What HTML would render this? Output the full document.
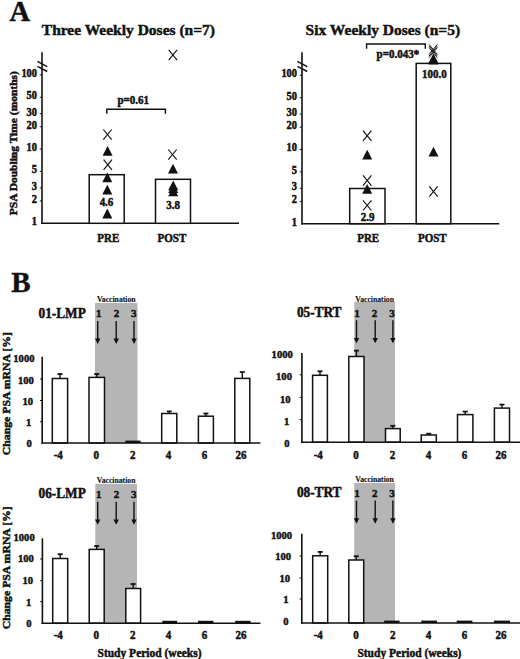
<!DOCTYPE html>
<html><head><meta charset="utf-8"><style>
html,body{margin:0;padding:0;background:#fff;}
svg{display:block;}
text{font-family:"Liberation Serif",serif;font-weight:bold;fill:#111;stroke:#111;stroke-width:0.45px;}
</style></head><body>
<svg width="520" height="659" viewBox="0 0 520 659">
<rect x="0" y="0" width="520" height="659" fill="#fff"/>
<text transform="translate(9.60,20.60) scale(1.0,1.04)" font-size="28.5" text-anchor="start">A</text>
<line x1="42.00" y1="52.30" x2="42.00" y2="224.10" stroke="#111" stroke-width="1.6"/>
<line x1="41.20" y1="223.30" x2="239.00" y2="223.30" stroke="#111" stroke-width="1.6"/>
<line x1="37.40" y1="61.40" x2="47.20" y2="66.70" stroke="#111" stroke-width="1.5"/>
<line x1="37.40" y1="66.30" x2="47.20" y2="71.50" stroke="#111" stroke-width="1.5"/>
<text transform="translate(37.00,225.20) scale(1.0,1.13)" font-size="10.4" text-anchor="end">1</text>
<line x1="39.80" y1="200.96" x2="42.00" y2="200.96" stroke="#111" stroke-width="1"/>
<text transform="translate(37.00,202.86) scale(1.0,1.13)" font-size="10.4" text-anchor="end">2</text>
<line x1="39.80" y1="187.90" x2="42.00" y2="187.90" stroke="#111" stroke-width="1"/>
<text transform="translate(37.00,189.80) scale(1.0,1.13)" font-size="10.4" text-anchor="end">3</text>
<line x1="39.80" y1="171.44" x2="42.00" y2="171.44" stroke="#111" stroke-width="1"/>
<text transform="translate(37.00,173.34) scale(1.0,1.13)" font-size="10.4" text-anchor="end">5</text>
<line x1="39.80" y1="149.10" x2="42.00" y2="149.10" stroke="#111" stroke-width="1"/>
<text transform="translate(37.00,151.00) scale(1.0,1.13)" font-size="10.4" text-anchor="end">10</text>
<line x1="39.80" y1="126.76" x2="42.00" y2="126.76" stroke="#111" stroke-width="1"/>
<text transform="translate(37.00,128.66) scale(1.0,1.13)" font-size="10.4" text-anchor="end">20</text>
<line x1="39.80" y1="113.70" x2="42.00" y2="113.70" stroke="#111" stroke-width="1"/>
<text transform="translate(37.00,115.60) scale(1.0,1.13)" font-size="10.4" text-anchor="end">30</text>
<line x1="39.80" y1="97.24" x2="42.00" y2="97.24" stroke="#111" stroke-width="1"/>
<text transform="translate(37.00,99.14) scale(1.0,1.13)" font-size="10.4" text-anchor="end">50</text>
<line x1="39.80" y1="74.90" x2="42.00" y2="74.90" stroke="#111" stroke-width="1"/>
<text transform="translate(37.00,76.80) scale(1.0,1.13)" font-size="10.4" text-anchor="end">100</text>
<text transform="translate(41.80,34.90)" font-size="15.5" text-anchor="start">Three Weekly Doses (n=7)</text>
<rect x="89.20" y="174.70" width="35.00" height="48.60" fill="#fff" stroke="#111" stroke-width="1.5"/>
<rect x="155.50" y="179.30" width="35.00" height="44.00" fill="#fff" stroke="#111" stroke-width="1.5"/>
<line x1="103.30" y1="129.50" x2="111.70" y2="139.70" stroke="#111" stroke-width="1.15"/>
<line x1="103.30" y1="139.70" x2="111.70" y2="129.50" stroke="#111" stroke-width="1.15"/>
<polygon points="107.60,146.00 102.60,155.80 112.60,155.80" fill="#111"/>
<line x1="103.60" y1="159.70" x2="112.00" y2="169.90" stroke="#111" stroke-width="1.15"/>
<line x1="103.60" y1="169.90" x2="112.00" y2="159.70" stroke="#111" stroke-width="1.15"/>
<polygon points="107.30,172.50 102.30,182.30 112.30,182.30" fill="#111"/>
<polygon points="107.30,184.70 102.30,194.50 112.30,194.50" fill="#111"/>
<polygon points="107.30,208.60 102.30,218.40 112.30,218.40" fill="#111"/>
<line x1="168.70" y1="49.90" x2="177.10" y2="60.10" stroke="#111" stroke-width="1.15"/>
<line x1="168.70" y1="60.10" x2="177.10" y2="49.90" stroke="#111" stroke-width="1.15"/>
<line x1="168.30" y1="149.50" x2="176.70" y2="159.70" stroke="#111" stroke-width="1.15"/>
<line x1="168.30" y1="159.70" x2="176.70" y2="149.50" stroke="#111" stroke-width="1.15"/>
<polygon points="173.00,163.80 168.00,173.60 178.00,173.60" fill="#111"/>
<polygon points="173.20,186.40 168.20,196.20 178.20,196.20" fill="#111"/>
<polygon points="173.20,183.20 168.20,193.00 178.20,193.00" fill="#111"/>
<polygon points="173.20,180.40 168.20,190.20 178.20,190.20" fill="#111"/>
<text transform="translate(106.50,205.70) scale(1.0,1.05)" font-size="11" text-anchor="middle">4.6</text>
<text transform="translate(173.20,209.40) scale(1.0,1.05)" font-size="11" text-anchor="middle">3.8</text>
<text transform="translate(108.25,241.90) scale(1.0,1.05)" font-size="11" text-anchor="middle">PRE</text>
<text transform="translate(171.90,241.90) scale(1.0,1.05)" font-size="11" text-anchor="middle">POST</text>
<path d="M106.8,113.7 V109.2 H165.4 V113.7" fill="none" stroke="#111" stroke-width="1.4"/>
<text transform="translate(133.20,104.00) scale(1.0,1.05)" font-size="11" text-anchor="middle">p=0.61</text>
<text transform="translate(16.90,143.20) rotate(-90) scale(1.064,1.0)" font-size="10.8" text-anchor="middle">PSA Doubling Time (months)</text>
<line x1="302.00" y1="52.30" x2="302.00" y2="224.50" stroke="#111" stroke-width="1.6"/>
<line x1="301.20" y1="223.70" x2="499.30" y2="223.70" stroke="#111" stroke-width="1.6"/>
<line x1="297.40" y1="61.40" x2="307.20" y2="66.70" stroke="#111" stroke-width="1.5"/>
<line x1="297.40" y1="66.30" x2="307.20" y2="71.50" stroke="#111" stroke-width="1.5"/>
<text transform="translate(297.00,225.60) scale(1.0,1.13)" font-size="10.4" text-anchor="end">1</text>
<line x1="299.80" y1="201.36" x2="302.00" y2="201.36" stroke="#111" stroke-width="1"/>
<text transform="translate(297.00,203.26) scale(1.0,1.13)" font-size="10.4" text-anchor="end">2</text>
<line x1="299.80" y1="188.30" x2="302.00" y2="188.30" stroke="#111" stroke-width="1"/>
<text transform="translate(297.00,190.20) scale(1.0,1.13)" font-size="10.4" text-anchor="end">3</text>
<line x1="299.80" y1="171.84" x2="302.00" y2="171.84" stroke="#111" stroke-width="1"/>
<text transform="translate(297.00,173.74) scale(1.0,1.13)" font-size="10.4" text-anchor="end">5</text>
<line x1="299.80" y1="149.50" x2="302.00" y2="149.50" stroke="#111" stroke-width="1"/>
<text transform="translate(297.00,151.40) scale(1.0,1.13)" font-size="10.4" text-anchor="end">10</text>
<line x1="299.80" y1="127.16" x2="302.00" y2="127.16" stroke="#111" stroke-width="1"/>
<text transform="translate(297.00,129.06) scale(1.0,1.13)" font-size="10.4" text-anchor="end">20</text>
<line x1="299.80" y1="114.10" x2="302.00" y2="114.10" stroke="#111" stroke-width="1"/>
<text transform="translate(297.00,116.00) scale(1.0,1.13)" font-size="10.4" text-anchor="end">30</text>
<line x1="299.80" y1="97.64" x2="302.00" y2="97.64" stroke="#111" stroke-width="1"/>
<text transform="translate(297.00,99.54) scale(1.0,1.13)" font-size="10.4" text-anchor="end">50</text>
<line x1="299.80" y1="75.30" x2="302.00" y2="75.30" stroke="#111" stroke-width="1"/>
<text transform="translate(297.00,77.20) scale(1.0,1.13)" font-size="10.4" text-anchor="end">100</text>
<text transform="translate(305.60,34.90)" font-size="15.5" text-anchor="start">Six Weekly Doses (n=5)</text>
<rect x="349.70" y="188.50" width="35.30" height="35.20" fill="#fff" stroke="#111" stroke-width="1.5"/>
<rect x="416.20" y="63.40" width="34.60" height="160.30" fill="#fff" stroke="#111" stroke-width="1.5"/>
<line x1="363.00" y1="130.60" x2="371.40" y2="140.80" stroke="#111" stroke-width="1.15"/>
<line x1="363.00" y1="140.80" x2="371.40" y2="130.60" stroke="#111" stroke-width="1.15"/>
<polygon points="367.20,149.80 362.20,159.60 372.20,159.60" fill="#111"/>
<line x1="363.00" y1="175.40" x2="371.40" y2="185.60" stroke="#111" stroke-width="1.15"/>
<line x1="363.00" y1="185.60" x2="371.40" y2="175.40" stroke="#111" stroke-width="1.15"/>
<polygon points="367.20,184.00 362.20,193.80 372.20,193.80" fill="#111"/>
<line x1="363.00" y1="200.30" x2="371.40" y2="210.50" stroke="#111" stroke-width="1.15"/>
<line x1="363.00" y1="210.50" x2="371.40" y2="200.30" stroke="#111" stroke-width="1.15"/>
<polygon points="433.50,146.80 428.50,156.60 438.50,156.60" fill="#111"/>
<line x1="429.30" y1="186.40" x2="437.70" y2="196.60" stroke="#111" stroke-width="1.15"/>
<line x1="429.30" y1="196.60" x2="437.70" y2="186.40" stroke="#111" stroke-width="1.15"/>
<line x1="429.00" y1="44.30" x2="437.40" y2="54.50" stroke="#111" stroke-width="0.95"/>
<line x1="429.00" y1="54.50" x2="437.40" y2="44.30" stroke="#111" stroke-width="0.95"/>
<line x1="429.00" y1="45.90" x2="437.40" y2="56.10" stroke="#111" stroke-width="0.95"/>
<line x1="429.00" y1="56.10" x2="437.40" y2="45.90" stroke="#111" stroke-width="0.95"/>
<line x1="429.00" y1="47.50" x2="437.40" y2="57.70" stroke="#111" stroke-width="0.95"/>
<line x1="429.00" y1="57.70" x2="437.40" y2="47.50" stroke="#111" stroke-width="0.95"/>
<polygon points="433.40,53.50 428.40,63.30 438.40,63.30" fill="#111"/>
<polygon points="433.40,54.60 428.40,64.40 438.40,64.40" fill="#111"/>
<text transform="translate(367.70,221.00) scale(1.0,1.05)" font-size="11" text-anchor="middle">2.9</text>
<text transform="translate(434.40,78.20) scale(1.0,1.05)" font-size="11" text-anchor="middle">100.0</text>
<text transform="translate(368.20,241.90) scale(1.0,1.05)" font-size="11" text-anchor="middle">PRE</text>
<text transform="translate(432.30,241.90) scale(1.0,1.05)" font-size="11" text-anchor="middle">POST</text>
<path d="M366.6,48.7 V44 H425.3 V48.7" fill="none" stroke="#111" stroke-width="1.4"/>
<text transform="translate(376.60,58.40) scale(1.0,1.05)" font-size="11" text-anchor="start">p=0.043*</text>
<text transform="translate(11.20,292.30)" font-size="29" text-anchor="start">B</text>
<rect x="95.00" y="303.00" width="42.50" height="140.00" fill="#b5b5b5"/>
<text transform="translate(38.50,317.90) scale(1.0,1.17)" font-size="13.3" text-anchor="start">01-LMP</text>
<text transform="translate(116.25,301.90)" font-size="7.7" text-anchor="middle" style="stroke-width:0.12px">Vaccination</text>
<text transform="translate(98.80,317.30) scale(1.0,1.03)" font-size="11" text-anchor="middle">1</text>
<line x1="97.70" y1="321.00" x2="97.70" y2="339.50" stroke="#111" stroke-width="1.4"/>
<polygon points="95.00,338.60 100.40,338.60 97.70,344.00" fill="#111"/>
<text transform="translate(116.40,317.30) scale(1.0,1.03)" font-size="11" text-anchor="middle">2</text>
<line x1="116.20" y1="321.00" x2="116.20" y2="339.50" stroke="#111" stroke-width="1.4"/>
<polygon points="113.50,338.60 118.90,338.60 116.20,344.00" fill="#111"/>
<text transform="translate(133.70,317.30) scale(1.0,1.03)" font-size="11" text-anchor="middle">3</text>
<line x1="134.00" y1="321.00" x2="134.00" y2="339.50" stroke="#111" stroke-width="1.4"/>
<polygon points="131.30,338.60 136.70,338.60 134.00,344.00" fill="#111"/>
<line x1="59.95" y1="374.00" x2="59.95" y2="378.50" stroke="#111" stroke-width="1.4"/>
<line x1="57.45" y1="374.00" x2="62.45" y2="374.00" stroke="#111" stroke-width="1.8"/>
<rect x="52.30" y="378.50" width="15.30" height="64.50" fill="#fff" stroke="#111" stroke-width="1.5"/>
<line x1="96.75" y1="374.00" x2="96.75" y2="377.40" stroke="#111" stroke-width="1.4"/>
<line x1="94.25" y1="374.00" x2="99.25" y2="374.00" stroke="#111" stroke-width="1.8"/>
<rect x="89.00" y="377.40" width="15.50" height="65.60" fill="#fff" stroke="#111" stroke-width="1.5"/>
<rect x="125.30" y="440.60" width="15.30" height="2.40" fill="#111"/>
<line x1="169.25" y1="411.40" x2="169.25" y2="413.50" stroke="#111" stroke-width="1.4"/>
<line x1="166.75" y1="411.40" x2="171.75" y2="411.40" stroke="#111" stroke-width="1.8"/>
<rect x="161.70" y="413.50" width="15.10" height="29.50" fill="#fff" stroke="#111" stroke-width="1.5"/>
<line x1="205.90" y1="413.50" x2="205.90" y2="416.20" stroke="#111" stroke-width="1.4"/>
<line x1="203.40" y1="413.50" x2="208.40" y2="413.50" stroke="#111" stroke-width="1.8"/>
<rect x="198.40" y="416.20" width="15.00" height="26.80" fill="#fff" stroke="#111" stroke-width="1.5"/>
<line x1="242.30" y1="372.00" x2="242.30" y2="378.40" stroke="#111" stroke-width="1.4"/>
<line x1="239.80" y1="372.00" x2="244.80" y2="372.00" stroke="#111" stroke-width="1.8"/>
<rect x="234.80" y="378.40" width="15.00" height="64.60" fill="#fff" stroke="#111" stroke-width="1.5"/>
<line x1="42.20" y1="356.80" x2="42.20" y2="443.80" stroke="#111" stroke-width="1.6"/>
<line x1="41.40" y1="443.00" x2="260.40" y2="443.00" stroke="#111" stroke-width="1.6"/>
<line x1="40.00" y1="379.00" x2="42.20" y2="379.00" stroke="#111" stroke-width="1"/>
<line x1="40.00" y1="400.50" x2="42.20" y2="400.50" stroke="#111" stroke-width="1"/>
<line x1="40.00" y1="421.80" x2="42.20" y2="421.80" stroke="#111" stroke-width="1"/>
<text transform="translate(23.90,361.80) scale(1.0,1.04)" font-size="10.6" text-anchor="middle">1000</text>
<text transform="translate(25.90,383.50) scale(1.0,1.04)" font-size="10.6" text-anchor="middle">100</text>
<text transform="translate(27.75,404.50) scale(1.0,1.04)" font-size="10.6" text-anchor="middle">10</text>
<text transform="translate(28.60,425.90) scale(1.0,1.04)" font-size="10.6" text-anchor="middle">1</text>
<text transform="translate(29.20,447.00) scale(1.0,1.04)" font-size="10.6" text-anchor="middle">0</text>
<text transform="translate(58.20,458.60) scale(1.0,1.05)" font-size="11" text-anchor="middle">-4</text>
<text transform="translate(96.30,458.60) scale(1.0,1.05)" font-size="11" text-anchor="middle">0</text>
<text transform="translate(132.80,458.60) scale(1.0,1.05)" font-size="11" text-anchor="middle">2</text>
<text transform="translate(168.50,458.60) scale(1.0,1.05)" font-size="11" text-anchor="middle">4</text>
<text transform="translate(204.50,458.60) scale(1.0,1.05)" font-size="11" text-anchor="middle">6</text>
<text transform="translate(240.90,458.60) scale(1.0,1.05)" font-size="11" text-anchor="middle">26</text>
<text transform="translate(9.90,393.70) rotate(-90) scale(1.078,1.0)" font-size="10.9" text-anchor="middle">Change PSA mRNA [%]</text>
<rect x="354.30" y="301.80" width="40.70" height="140.40" fill="#b5b5b5"/>
<text transform="translate(296.90,316.90) scale(1.0,1.17)" font-size="13.3" text-anchor="start">05-TRT</text>
<text transform="translate(374.65,301.50)" font-size="7.7" text-anchor="middle" style="stroke-width:0.12px">Vaccination</text>
<text transform="translate(356.90,316.90) scale(1.0,1.03)" font-size="11" text-anchor="middle">1</text>
<line x1="356.50" y1="320.20" x2="356.50" y2="338.80" stroke="#111" stroke-width="1.4"/>
<polygon points="353.80,337.90 359.20,337.90 356.50,343.30" fill="#111"/>
<text transform="translate(374.50,316.90) scale(1.0,1.03)" font-size="11" text-anchor="middle">2</text>
<line x1="375.20" y1="320.20" x2="375.20" y2="338.80" stroke="#111" stroke-width="1.4"/>
<polygon points="372.50,337.90 377.90,337.90 375.20,343.30" fill="#111"/>
<text transform="translate(391.90,316.90) scale(1.0,1.03)" font-size="11" text-anchor="middle">3</text>
<line x1="392.90" y1="320.20" x2="392.90" y2="338.80" stroke="#111" stroke-width="1.4"/>
<polygon points="390.20,337.90 395.60,337.90 392.90,343.30" fill="#111"/>
<line x1="320.00" y1="371.30" x2="320.00" y2="375.30" stroke="#111" stroke-width="1.4"/>
<line x1="317.50" y1="371.30" x2="322.50" y2="371.30" stroke="#111" stroke-width="1.8"/>
<rect x="312.60" y="375.30" width="14.80" height="66.90" fill="#fff" stroke="#111" stroke-width="1.5"/>
<line x1="356.40" y1="350.60" x2="356.40" y2="356.50" stroke="#111" stroke-width="1.4"/>
<line x1="353.90" y1="350.60" x2="358.90" y2="350.60" stroke="#111" stroke-width="1.8"/>
<rect x="348.80" y="356.50" width="15.20" height="85.70" fill="#fff" stroke="#111" stroke-width="1.5"/>
<line x1="392.85" y1="425.80" x2="392.85" y2="428.60" stroke="#111" stroke-width="1.4"/>
<line x1="390.35" y1="425.80" x2="395.35" y2="425.80" stroke="#111" stroke-width="1.8"/>
<rect x="385.50" y="428.60" width="14.70" height="13.60" fill="#fff" stroke="#111" stroke-width="1.5"/>
<line x1="428.75" y1="433.70" x2="428.75" y2="435.00" stroke="#111" stroke-width="1.4"/>
<line x1="426.25" y1="433.70" x2="431.25" y2="433.70" stroke="#111" stroke-width="1.8"/>
<rect x="421.20" y="435.00" width="15.10" height="7.20" fill="#fff" stroke="#111" stroke-width="1.5"/>
<line x1="465.20" y1="411.60" x2="465.20" y2="414.60" stroke="#111" stroke-width="1.4"/>
<line x1="462.70" y1="411.60" x2="467.70" y2="411.60" stroke="#111" stroke-width="1.8"/>
<rect x="457.50" y="414.60" width="15.40" height="27.60" fill="#fff" stroke="#111" stroke-width="1.5"/>
<line x1="501.95" y1="404.60" x2="501.95" y2="408.10" stroke="#111" stroke-width="1.4"/>
<line x1="499.45" y1="404.60" x2="504.45" y2="404.60" stroke="#111" stroke-width="1.8"/>
<rect x="494.40" y="408.10" width="15.10" height="34.10" fill="#fff" stroke="#111" stroke-width="1.5"/>
<line x1="301.90" y1="352.90" x2="301.90" y2="443.00" stroke="#111" stroke-width="1.6"/>
<line x1="301.10" y1="442.20" x2="520.00" y2="442.20" stroke="#111" stroke-width="1.6"/>
<line x1="299.70" y1="374.80" x2="301.90" y2="374.80" stroke="#111" stroke-width="1"/>
<line x1="299.70" y1="397.40" x2="301.90" y2="397.40" stroke="#111" stroke-width="1"/>
<line x1="299.70" y1="419.60" x2="301.90" y2="419.60" stroke="#111" stroke-width="1"/>
<text transform="translate(282.20,357.70) scale(1.0,1.04)" font-size="10.6" text-anchor="middle">1000</text>
<text transform="translate(284.00,380.10) scale(1.0,1.04)" font-size="10.6" text-anchor="middle">100</text>
<text transform="translate(285.20,402.50) scale(1.0,1.04)" font-size="10.6" text-anchor="middle">10</text>
<text transform="translate(286.70,424.50) scale(1.0,1.04)" font-size="10.6" text-anchor="middle">1</text>
<text transform="translate(286.80,446.90) scale(1.0,1.04)" font-size="10.6" text-anchor="middle">0</text>
<text transform="translate(318.20,459.00) scale(1.0,1.05)" font-size="11" text-anchor="middle">-4</text>
<text transform="translate(355.90,459.00) scale(1.0,1.05)" font-size="11" text-anchor="middle">0</text>
<text transform="translate(392.50,459.00) scale(1.0,1.05)" font-size="11" text-anchor="middle">2</text>
<text transform="translate(428.50,459.00) scale(1.0,1.05)" font-size="11" text-anchor="middle">4</text>
<text transform="translate(464.40,459.00) scale(1.0,1.05)" font-size="11" text-anchor="middle">6</text>
<text transform="translate(500.90,459.00) scale(1.0,1.05)" font-size="11" text-anchor="middle">26</text>
<rect x="95.30" y="483.80" width="41.70" height="139.40" fill="#b5b5b5"/>
<text transform="translate(38.50,497.70) scale(1.0,1.17)" font-size="13.3" text-anchor="start">06-LMP</text>
<text transform="translate(116.15,482.70)" font-size="7.7" text-anchor="middle" style="stroke-width:0.12px">Vaccination</text>
<text transform="translate(98.80,497.90) scale(1.0,1.03)" font-size="11" text-anchor="middle">1</text>
<line x1="97.70" y1="501.70" x2="97.70" y2="520.30" stroke="#111" stroke-width="1.4"/>
<polygon points="95.00,519.40 100.40,519.40 97.70,524.80" fill="#111"/>
<text transform="translate(116.40,497.90) scale(1.0,1.03)" font-size="11" text-anchor="middle">2</text>
<line x1="116.20" y1="501.70" x2="116.20" y2="520.30" stroke="#111" stroke-width="1.4"/>
<polygon points="113.50,519.40 118.90,519.40 116.20,524.80" fill="#111"/>
<text transform="translate(133.70,497.90) scale(1.0,1.03)" font-size="11" text-anchor="middle">3</text>
<line x1="134.00" y1="501.70" x2="134.00" y2="520.30" stroke="#111" stroke-width="1.4"/>
<polygon points="131.30,519.40 136.70,519.40 134.00,524.80" fill="#111"/>
<line x1="60.20" y1="554.20" x2="60.20" y2="558.50" stroke="#111" stroke-width="1.4"/>
<line x1="57.70" y1="554.20" x2="62.70" y2="554.20" stroke="#111" stroke-width="1.8"/>
<rect x="52.70" y="558.50" width="15.00" height="64.70" fill="#fff" stroke="#111" stroke-width="1.5"/>
<line x1="96.70" y1="546.00" x2="96.70" y2="549.40" stroke="#111" stroke-width="1.4"/>
<line x1="94.20" y1="546.00" x2="99.20" y2="546.00" stroke="#111" stroke-width="1.8"/>
<rect x="89.20" y="549.40" width="15.00" height="73.80" fill="#fff" stroke="#111" stroke-width="1.5"/>
<line x1="133.20" y1="584.00" x2="133.20" y2="588.50" stroke="#111" stroke-width="1.4"/>
<line x1="130.70" y1="584.00" x2="135.70" y2="584.00" stroke="#111" stroke-width="1.8"/>
<rect x="125.80" y="588.50" width="14.80" height="34.70" fill="#fff" stroke="#111" stroke-width="1.5"/>
<rect x="162.30" y="620.80" width="14.80" height="2.40" fill="#111"/>
<rect x="198.00" y="620.80" width="15.40" height="2.40" fill="#111"/>
<rect x="235.20" y="620.80" width="15.40" height="2.40" fill="#111"/>
<line x1="42.40" y1="538.30" x2="42.40" y2="624.00" stroke="#111" stroke-width="1.6"/>
<line x1="41.60" y1="623.20" x2="260.40" y2="623.20" stroke="#111" stroke-width="1.6"/>
<line x1="40.20" y1="559.00" x2="42.40" y2="559.00" stroke="#111" stroke-width="1"/>
<line x1="40.20" y1="580.70" x2="42.40" y2="580.70" stroke="#111" stroke-width="1"/>
<line x1="40.20" y1="601.60" x2="42.40" y2="601.60" stroke="#111" stroke-width="1"/>
<text transform="translate(24.10,540.60) scale(1.0,1.04)" font-size="10.6" text-anchor="middle">1000</text>
<text transform="translate(25.85,562.30) scale(1.0,1.04)" font-size="10.6" text-anchor="middle">100</text>
<text transform="translate(27.80,583.90) scale(1.0,1.04)" font-size="10.6" text-anchor="middle">10</text>
<text transform="translate(28.55,605.50) scale(1.0,1.04)" font-size="10.6" text-anchor="middle">1</text>
<text transform="translate(29.00,626.80) scale(1.0,1.04)" font-size="10.6" text-anchor="middle">0</text>
<text transform="translate(58.20,639.40) scale(1.0,1.05)" font-size="11" text-anchor="middle">-4</text>
<text transform="translate(96.15,639.40) scale(1.0,1.05)" font-size="11" text-anchor="middle">0</text>
<text transform="translate(132.80,639.40) scale(1.0,1.05)" font-size="11" text-anchor="middle">2</text>
<text transform="translate(168.50,639.40) scale(1.0,1.05)" font-size="11" text-anchor="middle">4</text>
<text transform="translate(204.50,639.40) scale(1.0,1.05)" font-size="11" text-anchor="middle">6</text>
<text transform="translate(240.90,639.40) scale(1.0,1.05)" font-size="11" text-anchor="middle">26</text>
<text transform="translate(9.90,567.80) rotate(-90) scale(1.078,1.0)" font-size="10.9" text-anchor="middle">Change PSA mRNA [%]</text>
<text transform="translate(97.50,656.50) scale(1.0,1.05)" font-size="11.5" text-anchor="start">Study Period (weeks)</text>
<rect x="354.20" y="482.90" width="40.80" height="140.10" fill="#b5b5b5"/>
<text transform="translate(296.90,496.90) scale(1.0,1.17)" font-size="13.3" text-anchor="start">08-TRT</text>
<text transform="translate(374.60,482.10)" font-size="7.7" text-anchor="middle" style="stroke-width:0.12px">Vaccination</text>
<text transform="translate(356.90,497.10) scale(1.0,1.03)" font-size="11" text-anchor="middle">1</text>
<line x1="356.50" y1="500.60" x2="356.50" y2="519.20" stroke="#111" stroke-width="1.4"/>
<polygon points="353.80,518.30 359.20,518.30 356.50,523.70" fill="#111"/>
<text transform="translate(374.80,497.10) scale(1.0,1.03)" font-size="11" text-anchor="middle">2</text>
<line x1="375.20" y1="500.60" x2="375.20" y2="519.20" stroke="#111" stroke-width="1.4"/>
<polygon points="372.50,518.30 377.90,518.30 375.20,523.70" fill="#111"/>
<text transform="translate(392.10,497.10) scale(1.0,1.03)" font-size="11" text-anchor="middle">3</text>
<line x1="392.90" y1="500.60" x2="392.90" y2="519.20" stroke="#111" stroke-width="1.4"/>
<polygon points="390.20,518.30 395.60,518.30 392.90,523.70" fill="#111"/>
<line x1="320.20" y1="551.90" x2="320.20" y2="555.80" stroke="#111" stroke-width="1.4"/>
<line x1="317.70" y1="551.90" x2="322.70" y2="551.90" stroke="#111" stroke-width="1.8"/>
<rect x="312.70" y="555.80" width="15.00" height="67.20" fill="#fff" stroke="#111" stroke-width="1.5"/>
<line x1="356.25" y1="556.20" x2="356.25" y2="560.00" stroke="#111" stroke-width="1.4"/>
<line x1="353.75" y1="556.20" x2="358.75" y2="556.20" stroke="#111" stroke-width="1.8"/>
<rect x="348.80" y="560.00" width="14.90" height="63.00" fill="#fff" stroke="#111" stroke-width="1.5"/>
<rect x="384.20" y="620.60" width="15.40" height="2.40" fill="#111"/>
<rect x="421.20" y="620.60" width="15.80" height="2.40" fill="#111"/>
<rect x="456.70" y="620.60" width="15.70" height="2.40" fill="#111"/>
<rect x="493.90" y="620.60" width="16.10" height="2.40" fill="#111"/>
<line x1="301.80" y1="533.80" x2="301.80" y2="623.80" stroke="#111" stroke-width="1.6"/>
<line x1="301.00" y1="623.00" x2="520.00" y2="623.00" stroke="#111" stroke-width="1.6"/>
<line x1="299.60" y1="556.00" x2="301.80" y2="556.00" stroke="#111" stroke-width="1"/>
<line x1="299.60" y1="578.00" x2="301.80" y2="578.00" stroke="#111" stroke-width="1"/>
<line x1="299.60" y1="599.00" x2="301.80" y2="599.00" stroke="#111" stroke-width="1"/>
<text transform="translate(281.50,538.50) scale(1.0,1.04)" font-size="10.6" text-anchor="middle">1000</text>
<text transform="translate(283.20,560.10) scale(1.0,1.04)" font-size="10.6" text-anchor="middle">100</text>
<text transform="translate(284.80,582.30) scale(1.0,1.04)" font-size="10.6" text-anchor="middle">10</text>
<text transform="translate(285.90,603.10) scale(1.0,1.04)" font-size="10.6" text-anchor="middle">1</text>
<text transform="translate(285.90,624.50) scale(1.0,1.04)" font-size="10.6" text-anchor="middle">0</text>
<text transform="translate(318.20,639.40) scale(1.0,1.05)" font-size="11" text-anchor="middle">-4</text>
<text transform="translate(356.10,639.40) scale(1.0,1.05)" font-size="11" text-anchor="middle">0</text>
<text transform="translate(392.70,639.40) scale(1.0,1.05)" font-size="11" text-anchor="middle">2</text>
<text transform="translate(428.50,639.40) scale(1.0,1.05)" font-size="11" text-anchor="middle">4</text>
<text transform="translate(464.40,639.40) scale(1.0,1.05)" font-size="11" text-anchor="middle">6</text>
<text transform="translate(500.90,639.40) scale(1.0,1.05)" font-size="11" text-anchor="middle">26</text>
<text transform="translate(357.40,656.50) scale(1.0,1.05)" font-size="11.5" text-anchor="start">Study Period (weeks)</text>
</svg>
</body></html>
